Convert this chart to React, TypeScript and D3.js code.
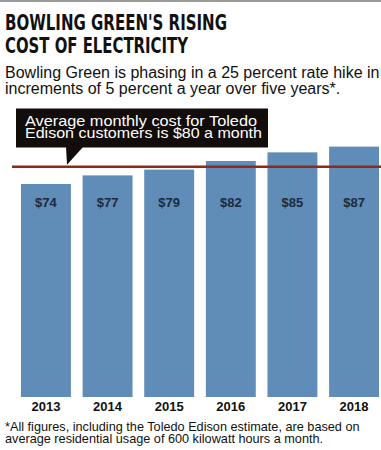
import React from "react";
import * as d3 from "d3";

const years = ["2013", "2014", "2015", "2016", "2017", "2018"];
const costs = [74, 77, 79, 82, 85, 87];
const toledoAverage = 80;
const titleLines = ["BOWLING GREEN'S RISING", "COST OF ELECTRICITY"];
const subtitleLines = [
  "Bowling Green is phasing in a 25 percent rate hike in",
  "increments of 5 percent a year over five years*.",
];
const calloutLines = ["Average monthly cost for Toledo", "Edison customers is $80 a month"];
const footnoteLines = [
  "*All figures, including the Toledo Edison estimate, are based on",
  "average residential usage of 600 kilowatt hours a month.",
];

const W = 381;
const H = 450;

export default function App() {
  const x = d3.scaleBand<string>().domain(years).range([21, 379]).paddingInner(0.19).paddingOuter(0);
  const y = d3.scaleLinear().domain([0, 87]).range([397, 146.6]);
  const sans = "'Liberation Sans', Arial, sans-serif";
  const condensed = "'Liberation Sans Narrow', 'DejaVu Sans Condensed', 'Liberation Sans', sans-serif";
  const redY = y(toledoAverage);
  return (
    <svg width={W} height={H} style={{ position: "absolute", left: 0, top: 0, background: "#fff" }}>
      <rect x={0} y={0} width={W} height={H} fill="#fff" />
      <rect x={0} y={0} width={W} height={2} fill="#9a9a9a" />
      {titleLines.map((t, i) => (
        <text key={t} x={5} y={29.5 + i * 23.5} fontFamily={condensed} fontWeight="bold" fontSize={21.5}
          fill="#111" textLength={i === 0 ? 222 : 183} lengthAdjust="spacingAndGlyphs">{t}</text>
      ))}
      {subtitleLines.map((t, i) => (
        <text key={t} x={5} y={77.5 + i * 16.5} fontFamily={sans} fontSize={16} fill="#111">{t}</text>
      ))}
      {years.map((yr, i) => (
        <g key={yr}>
          <rect x={x(yr)} y={y(costs[i])} width={x.bandwidth()} height={y(0) - y(costs[i])} fill="#5f8db7" />
          <text x={(x(yr) as number) + x.bandwidth() / 2} y={206.5} textAnchor="middle" fontFamily={sans}
            fontWeight="bold" fontSize={13} fill="#1c2a3e">${costs[i]}</text>
          <text x={(x(yr) as number) + x.bandwidth() / 2} y={410.5} textAnchor="middle" fontFamily={sans}
            fontWeight="bold" fontSize={13} fill="#111">{yr}</text>
        </g>
      ))}
      <line x1={12} x2={W} y1={redY} y2={redY} stroke="#8e2a1c" strokeWidth={2.5} />
      <rect x={16} y={108.5} width={252} height={39} fill="#120c0a" />
      <path d={`M66,147 L83,147 L67,${redY - 2} Z`} fill="#120c0a" />
      <text fontFamily={sans} fontSize={14.8} fill="#fff">
        {calloutLines.map((t, i) => (
          <tspan key={t} x={25} y={125.5 + i * 12.8} textLength={i === 0 ? 232 : 237}
            lengthAdjust="spacingAndGlyphs">{t}</tspan>
        ))}
      </text>
      {footnoteLines.map((t, i) => (
        <text key={t} x={5} y={430.5 + i * 12.5} fontFamily={sans} fontSize={12.7} fill="#111">{t}</text>
      ))}
    </svg>
  );
}
